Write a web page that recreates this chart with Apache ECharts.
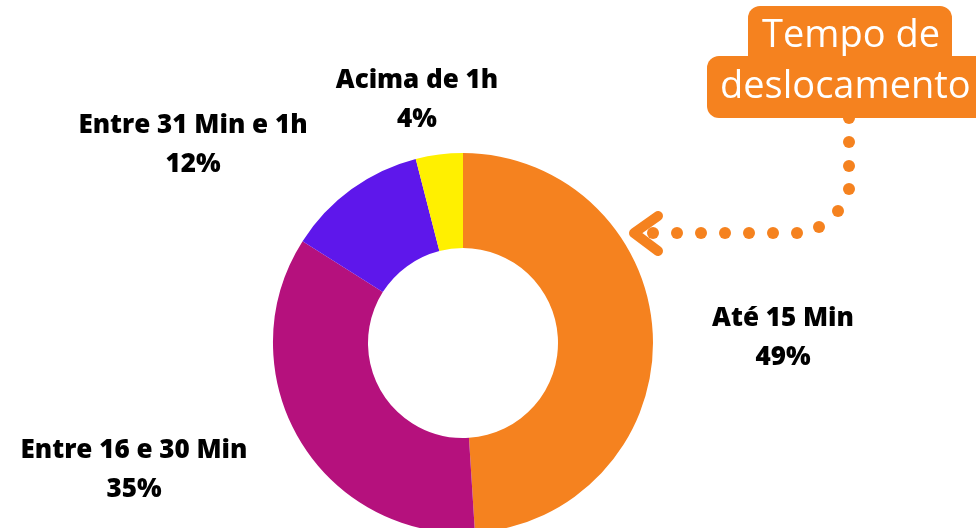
<!DOCTYPE html>
<html><head><meta charset="utf-8">
<script src="https://cdn.jsdelivr.net/npm/echarts@6/dist/echarts.min.js"></script>
<style>html,body{margin:0;padding:0;background:#fff}#c{width:976px;height:528px}</style>
</head><body><div id="c"></div>
<script>
const categories = ['Até 15 Min', 'Entre 16 e 30 Min', 'Entre 31 Min e 1h', 'Acima de 1h'];
const values = [49, 35, 12, 4];
const colors = ['#F5821F', '#B5117D', '#5E17EB', '#FFF000'];
const calloutText = ['Tempo de', 'deslocamento'];

const labelPos = [[783, 338], [134, 470], [193, 145], [417, 100]];
const chart = echarts.init(document.getElementById('c'), null, {renderer: 'canvas'});

const dotsV = [[849, 142], [849, 166], [849, 189], [838, 211], [819, 227]];
const dotsH = [797, 773, 749, 725, 701, 677, 653].map(x => [x, 233]);
const dotEls = dotsV.concat(dotsH).map(p => ({
  type: 'circle', shape: {cx: p[0], cy: p[1], r: 6}, style: {fill: '#F5821F'}
}));

chart.setOption({
  backgroundColor: '#ffffff',
  animation: false,
  series: [{
    type: 'pie',
    center: [463, 343],
    radius: [95, 190],
    startAngle: 90,
    clockwise: true,
    silent: true,
    data: categories.map((n, i) => ({name: n, value: values[i], itemStyle: {color: colors[i]}})),
    label: {
      show: true,
      position: 'outside',
      formatter: p => p.name + '\n' + p.value + '%',
      fontFamily: 'Open Sans',
      fontWeight: 800,
      fontSize: 26,
      lineHeight: 39,
      color: '#000',
      align: 'center'
    },
    labelLine: {show: false},
    labelLayout: p => ({x: labelPos[p.dataIndex][0], y: labelPos[p.dataIndex][1], align: 'center', verticalAlign: 'middle'})
  }],
  graphic: [
    {type: 'circle', shape: {cx: 849, cy: 118, r: 6}, style: {fill: '#F5821F'}, z: 1},
    {type: 'rect', shape: {x: 748, y: 6, width: 204, height: 64, r: 12}, style: {fill: '#F5821F'}, z: 2},
    {type: 'rect', shape: {x: 707, y: 56, width: 290, height: 62, r: 12}, style: {fill: '#F5821F'}, z: 2},
    {type: 'text', left: 762, top: 17, z: 3, style: {text: calloutText[0], fill: '#fff', font: '500 38px "Open Sans"'}},
    {type: 'text', left: 720, top: 68, z: 3, style: {text: calloutText[1], fill: '#fff', font: '500 38px "Open Sans"'}},
    {type: 'polyline', shape: {points: [[658, 216], [634, 233], [658, 251]]},
      style: {stroke: '#F5821F', lineWidth: 10, lineCap: 'round', lineJoin: 'round', fill: null}, z: 2}
  ].concat(dotEls)
});
</script></body></html>
